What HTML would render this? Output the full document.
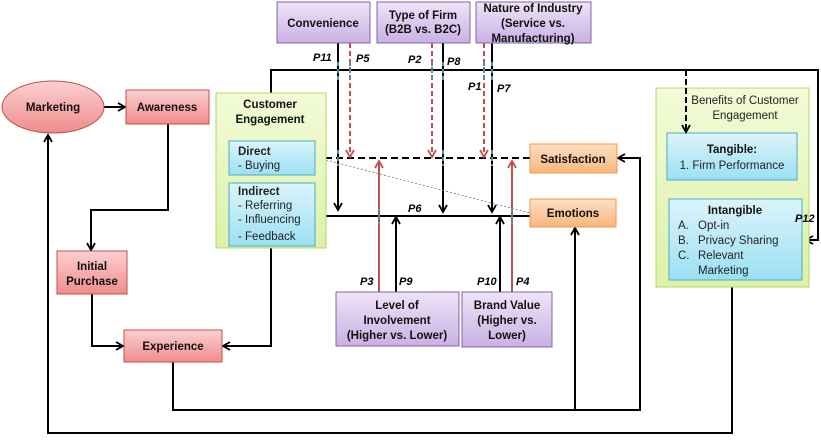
<!DOCTYPE html>
<html><head><style>
body{margin:0;background:#fff}
svg text{font-family:"Liberation Sans",sans-serif}
</style></head><body>
<svg width="821" height="440" viewBox="0 0 821 440" xmlns="http://www.w3.org/2000/svg">
<defs>
<linearGradient id="pk" x1="0" y1="0" x2="0" y2="1"><stop offset="0" stop-color="#fbd0d0"/><stop offset="1" stop-color="#f08c8c"/></linearGradient>
<linearGradient id="pu" x1="0" y1="0" x2="0" y2="1"><stop offset="0" stop-color="#efe3f8"/><stop offset="1" stop-color="#c9b1e3"/></linearGradient>
<linearGradient id="or" x1="0" y1="0" x2="0" y2="1"><stop offset="0" stop-color="#fde0c4"/><stop offset="1" stop-color="#f7b67c"/></linearGradient>
<linearGradient id="bl" x1="0" y1="0" x2="0" y2="1"><stop offset="0" stop-color="#dcf4fb"/><stop offset="1" stop-color="#9be0f3"/></linearGradient>
<linearGradient id="gr" x1="0" y1="0" x2="0" y2="1"><stop offset="0" stop-color="#f3fbd8"/><stop offset="1" stop-color="#dcf1a8"/></linearGradient>
<marker id="a" markerWidth="10" markerHeight="10" refX="8" refY="5" orient="auto" markerUnits="userSpaceOnUse"><path d="M1,1 L8,5 L1,9" fill="none" stroke="#000" stroke-width="1.8"/></marker>
<marker id="r" markerWidth="10" markerHeight="10" refX="8" refY="5" orient="auto" markerUnits="userSpaceOnUse"><path d="M1,1 L8,5 L1,9" fill="none" stroke="#c0504d" stroke-width="1.8"/></marker>
</defs>
<g fill="none" stroke="#000" stroke-width="2">
<line x1="103" y1="107" x2="125" y2="107" marker-end="url(#a)"/>
<polyline points="168,124 168,210 91,210 91,250" marker-end="url(#a)"/>
<polyline points="92,294 92,346 123,346" marker-end="url(#a)"/>
<polyline points="271,248 271,346 223,346" marker-end="url(#a)"/>
<polyline points="271,93 271,70 818,70 818,240 806,240" marker-end="url(#a)"/>
<polyline points="173,362 173,410 640,410 640,158 618,158" marker-end="url(#a)"/>
<line x1="575" y1="410" x2="575" y2="228" marker-end="url(#a)"/>
<polyline points="732,287 732,433 48,433 48,135" marker-end="url(#a)"/>
<line x1="530" y1="216" x2="317" y2="216" marker-end="url(#a)"/>
<line x1="338" y1="43" x2="338" y2="210" marker-end="url(#a)"/>
<line x1="443" y1="43" x2="443" y2="212" marker-end="url(#a)"/>
<line x1="492" y1="43" x2="492" y2="212" marker-end="url(#a)"/>
<line x1="396" y1="292" x2="396" y2="217" marker-end="url(#a)"/>
<line x1="500" y1="292" x2="500" y2="217" marker-end="url(#a)"/>
<line x1="530" y1="158" x2="317" y2="158" stroke-dasharray="7,4" marker-end="url(#a)"/>
</g>
<line x1="326" y1="160" x2="530" y2="213" stroke="#777" stroke-width="0.8" stroke-dasharray="2,2"/>
<g fill="none" stroke="#c0504d" stroke-width="2">
<line x1="350" y1="43" x2="350" y2="157" stroke-dasharray="5,3" marker-end="url(#r)"/>
<line x1="432" y1="43" x2="432" y2="157" stroke-dasharray="5,3" marker-end="url(#r)"/>
<line x1="484" y1="43" x2="484" y2="157" stroke-dasharray="5,3" marker-end="url(#r)"/>
<line x1="379" y1="292" x2="379" y2="161" marker-end="url(#r)"/>
<line x1="512" y1="292" x2="512" y2="161" marker-end="url(#r)"/>
</g>
<g stroke="#4f8fa8" stroke-width="2" stroke-dasharray="4,3">
<line x1="338" y1="62" x2="338" y2="80"/><line x1="350" y1="62" x2="350" y2="80"/>
<line x1="432" y1="62" x2="432" y2="80"/><line x1="443" y1="62" x2="443" y2="80"/>
<line x1="484" y1="62" x2="484" y2="80"/><line x1="492" y1="62" x2="492" y2="80"/>
<line x1="379" y1="208" x2="379" y2="224"/><line x1="512" y1="208" x2="512" y2="224"/>
<line x1="338" y1="150" x2="338" y2="166"/><line x1="443" y1="150" x2="443" y2="166"/><line x1="492" y1="150" x2="492" y2="166"/>
</g>
<g stroke-width="1">
<ellipse cx="53" cy="107" rx="51" ry="26" fill="url(#pk)" stroke="#c0504d"/>
<rect x="126" y="90" width="83" height="34" fill="url(#pk)" stroke="#c0504d"/>
<rect x="57" y="251" width="70" height="43" fill="url(#pk)" stroke="#c0504d"/>
<rect x="124" y="330" width="98" height="32" fill="url(#pk)" stroke="#c0504d"/>
<rect x="216" y="93" width="110" height="155" fill="url(#gr)" stroke="#b5d46a"/>
<rect x="229" y="141" width="86" height="34" fill="url(#bl)" stroke="#4bacc6"/>
<rect x="229" y="183" width="86" height="63" fill="url(#bl)" stroke="#4bacc6"/>
<rect x="277" y="2" width="93" height="41" fill="url(#pu)" stroke="#8064a2"/>
<rect x="377" y="2" width="93" height="41" fill="url(#pu)" stroke="#8064a2"/>
<rect x="476" y="2" width="115" height="41" fill="url(#pu)" stroke="#8064a2"/>
<rect x="336" y="292" width="123" height="54" fill="url(#pu)" stroke="#8064a2"/>
<rect x="462" y="292" width="90" height="55" fill="url(#pu)" stroke="#8064a2"/>
<rect x="530" y="144" width="87" height="29" fill="url(#or)" stroke="#f79646"/>
<rect x="530" y="199" width="86" height="28" fill="url(#or)" stroke="#f79646"/>
<rect x="656" y="88" width="153" height="199" fill="url(#gr)" stroke="#b5d46a"/>
<rect x="667" y="133" width="130" height="47" fill="url(#bl)" stroke="#4bacc6"/>
<rect x="669" y="199" width="133" height="81" fill="url(#bl)" stroke="#4bacc6"/>
</g>
<line x1="686" y1="70" x2="686" y2="132" stroke="#000" stroke-width="2" stroke-dasharray="6,3" marker-end="url(#a)"/>
<g font-size="11.5" font-weight="bold" fill="#111" text-anchor="middle">
<text x="53" y="111">Marketing</text>
<text x="167" y="111">Awareness</text>
<text x="92" y="270">Initial</text><text x="92" y="285">Purchase</text>
<text x="173" y="350">Experience</text>
<text x="270" y="108">Customer</text><text x="270" y="123">Engagement</text>
<text x="323" y="27">Convenience</text>
<text x="423" y="19">Type of Firm</text><text x="423" y="33">(B2B vs. B2C)</text>
<text x="533" y="12">Nature of Industry</text><text x="533" y="27">(Service vs.</text><text x="533" y="42">Manufacturing)</text>
<text x="397" y="309">Level of</text><text x="397" y="324">Involvement</text><text x="397" y="339">(Higher vs. Lower)</text>
<text x="507" y="309">Brand Value</text><text x="507" y="324">(Higher vs.</text><text x="507" y="339">Lower)</text>
<text x="573" y="163">Satisfaction</text>
<text x="573" y="217">Emotions</text>
<text x="732" y="153">Tangible:</text>
<text x="735" y="214">Intangible</text>
</g>
<g font-size="11.5" fill="#222">
<text x="238" y="155" font-weight="bold">Direct</text><text x="238" y="169">- Buying</text>
<text x="238" y="195" font-weight="bold">Indirect</text><text x="238" y="209">- Referring</text><text x="238" y="223">- Influencing</text><text x="238" y="240">- Feedback</text>
<text x="745" y="104" text-anchor="middle">Benefits of Customer</text><text x="745" y="119" text-anchor="middle">Engagement</text>
<text x="732" y="169" text-anchor="middle">1. Firm Performance</text>
<text x="678" y="229">A.</text><text x="698" y="229">Opt-in</text>
<text x="678" y="244">B.</text><text x="698" y="244">Privacy Sharing</text>
<text x="678" y="259">C.</text><text x="698" y="259">Relevant</text>
<text x="698" y="274">Marketing</text>
</g>
<g font-size="11" font-weight="bold" font-style="italic" fill="#000">
<text x="313" y="61">P11</text><text x="356" y="62">P5</text>
<text x="408" y="63">P2</text><text x="447" y="65">P8</text>
<text x="468" y="90">P1</text><text x="497" y="92">P7</text>
<text x="408" y="212">P6</text>
<text x="360" y="285">P3</text><text x="399" y="285">P9</text>
<text x="477" y="285">P10</text><text x="516" y="285">P4</text>
<text x="795" y="222">P12</text>
</g>
</svg>
</body></html>
